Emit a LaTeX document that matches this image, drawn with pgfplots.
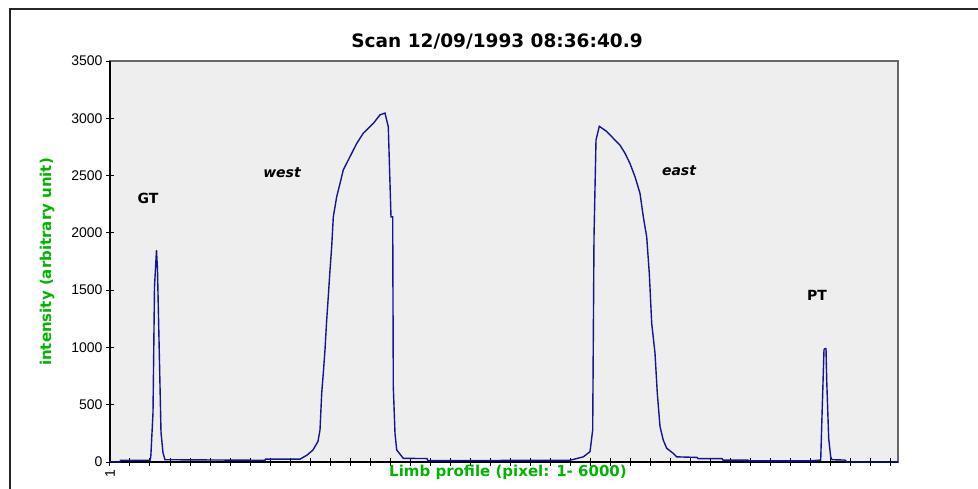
\documentclass[border=0pt]{standalone}
\usepackage{fontspec}
\setmainfont{Liberation Sans}
\newfontfamily\dv{DejaVu Sans}
\usepackage{pgfplots}
\pgfplotsset{compat=1.18}
\definecolor{bg}{HTML}{EEEEEE}
\definecolor{curve}{RGB}{20,20,150}
\definecolor{lab}{RGB}{0,180,0}

\begin{document}
\begin{tikzpicture}
\begin{axis}[
  scale only axis, width=788pt, height=401pt,
  xmin=0, xmax=788, ymin=0, ymax=3500,
  axis background/.style={fill=bg},
  axis line style={draw=black!60, line width=1.2pt},
  xtick={0,20,...,780}, xticklabels={},
  ytick={0,500,...,3500},
  tick pos=left, tick align=center, major tick length=8pt,
  tick style={black, line width=1pt},
  /pgf/number format/assume math mode=true,
  /pgf/number format/1000 sep={},
  yticklabel style={font=\fontsize{14}{14}\selectfont},
  extra x ticks={0}, extra x tick labels={1},
  extra x tick style={tick label style={rotate=90,anchor=east,font=\fontsize{14}{14}\selectfont}},
  clip=false,
]
\draw[black, line width=1.3pt] (rel axis cs:0,1) -- (rel axis cs:0,0) -- (rel axis cs:1,0);
\addplot[curve, line width=1.4pt, sharp plot, mark=none] coordinates {
(0,0) (10,0) (10.5,15) (40,15) (40.7,40) (41,80) (43,430) (44.5,1530) (46.5,1850)
(47.5,1675) (49.5,870) (51,260) (53,80) (55,20) (155,15) (155.5,25) (190,25)
(197,60) (203,105) (208,180) (210,280) (211.7,600) (213.3,775) (215,980)
(216.7,1240) (218.3,1445) (220,1675) (221.7,1880) (223.3,2140) (226.7,2315)
(230,2430) (233.3,2550) (240,2665) (246.7,2780) (253.3,2870) (263.3,2955)
(270,3030) (275,3045) (278.3,2925) (281,2140) (282.7,2140) (283.3,655)
(285,250) (286.7,105) (293.3,32) (317,30) (318,12) (460,15) (473.3,45) (480,90)
(482.7,280) (484,1965) (486,2810) (489.3,2930) (496.7,2885) (503.3,2825)
(510,2765) (515,2695) (520,2605) (525,2490) (530,2345) (533.3,2140) (536.7,1965)
(539.3,1645) (541.7,1210) (545,950) (547.3,600) (550,310) (553.3,190)
(556.7,120) (563.3,75) (566.7,45) (587,40) (588,30) (612,30) (613,17) (638,17)
(639,10) (700,10) (710.7,17) (712,400) (714,980) (715,990) (716,990) (716.7,715)
(718.7,205) (720.7,45) (722,20) (735,17) (737,0) (788,0)
};
\node[font=\dv\bfseries\fontsize{14}{14}\selectfont] at (axis cs:38,2304) {GT};
\node[font=\dv\bfseries\itshape\fontsize{14}{14}\selectfont] at (axis cs:172,2522) {west};
\node[font=\dv\bfseries\itshape\fontsize{14}{14}\selectfont] at (axis cs:569,2540) {east};
\node[font=\dv\bfseries\fontsize{14}{14}\selectfont] at (axis cs:707,1458) {PT};
\end{axis}
\node[font=\dv\bfseries\fontsize{18.5}{19}\selectfont] at (387pt,421pt) {Scan 12/09/1993 08:36:40.9};
\node[font=\dv\bfseries\fontsize{15}{15}\selectfont, text=lab, rotate=90] at (-63pt,200pt) {intensity (arbitrary unit)};
\node[font=\dv\bfseries\fontsize{15}{15}\selectfont, text=lab] at (398pt,-10pt) {Limb profile (pixel: 1- 6000)};
\draw[line width=1.5pt, black!85] (-100pt,-40pt) -- (-100pt,453pt) -- (880pt,453pt);
\pgfresetboundingbox
\path[use as bounding box] (-110pt,-26pt) rectangle (868pt,462pt);
\end{tikzpicture}
\end{document}
